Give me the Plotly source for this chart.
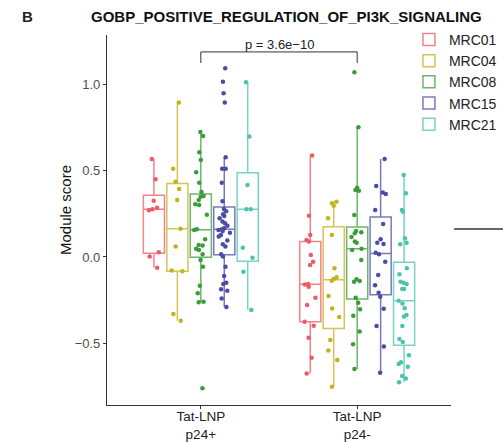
import plotly.graph_objects as go

# ---- data (module scores) ----
groups = ["Tat-LNP<br>p24+", "Tat-LNP<br>p24-"]
samples = ["MRC01", "MRC04", "MRC08", "MRC15", "MRC21"]

mrc01_pos = [-0.062, 0.002, 0.028, 0.270, 0.276, 0.285, 0.326, 0.450, 0.567]
mrc01_neg = [-0.674, -0.583, -0.467, -0.398, -0.375, -0.278, -0.236, -0.172, -0.160,
             -0.156, -0.046, -0.027, 0.012, 0.089, 0.098, 0.127, 0.239, 0.587]

mrc04_pos = [-0.369, -0.330, -0.083, -0.079, 0.060, 0.164, 0.330, 0.394, 0.436, 0.511, 0.894]
mrc04_neg = [-0.751, -0.596, -0.542, -0.481, -0.347, -0.299, -0.226, -0.137, -0.127,
             -0.118, -0.066, 0.127, 0.224, 0.297, 0.311, 0.320]

mrc08_pos = [-0.760, -0.262, -0.259, -0.210, -0.166, -0.056, -0.017, 0.015, 0.041, 0.048,
             0.066, 0.069, 0.102, 0.156, 0.160, 0.245, 0.301, 0.305, 0.330, 0.349, 0.353,
             0.376, 0.430, 0.490, 0.562, 0.606, 0.701, 0.724]
mrc08_neg = [-0.649, -0.506, -0.432, -0.340, -0.303, -0.265, -0.236, -0.143, -0.139, -0.129,
             -0.017, 0.041, 0.048, 0.083, 0.089, 0.115, 0.137, 0.143, 0.151, 0.243, 0.384,
             0.388, 0.401, 0.751, 1.069]

mrc15_pos = [-0.290, -0.241, -0.195, -0.187, -0.156, -0.149, -0.110, -0.056, 0.002, 0.016,
             0.060, 0.073, 0.095, 0.118, 0.127, 0.140, 0.150, 0.156, 0.160, 0.166, 0.181,
             0.195, 0.205, 0.224, 0.237, 0.247, 0.265, 0.278, 0.322, 0.430, 0.511, 0.511,
             0.577, 0.894, 0.948, 1.015, 1.093]
mrc15_neg = [-0.670, -0.519, -0.400, -0.300, -0.230, -0.207, -0.164, -0.104, -0.027, 0.016,
             0.025, 0.075, 0.083, 0.102, 0.191, 0.272, 0.365, 0.373, 0.411, 0.567]

mrc21_pos = [-0.307, -0.085, -0.004, 0.054, 0.276, 0.276, 0.417, 0.697, 1.011]
mrc21_neg = [-0.726, -0.703, -0.689, -0.635, -0.620, -0.610, -0.569, -0.492, -0.475, -0.400,
             -0.345, -0.336, -0.297, -0.270, -0.253, -0.185, -0.185, -0.156, -0.149, -0.143,
             -0.100, -0.066, 0.073, 0.083, 0.108, 0.262, 0.272, 0.369, 0.475]

p_text = "p = 3.6e\u221210"
bracket_y = 1.187
bracket_tick_y = 1.123
title_text = "GOBP_POSITIVE_REGULATION_OF_PI3K_SIGNALING"
panel_label = "B"
y_title = "Module score"

point_colors = ["#EE5A66", "#C4B21E", "#3C9C3C", "#4A4CA6", "#4CC4AC"]
line_colors = ["rgba(238,90,102,0.75)", "rgba(196,178,30,0.75)", "rgba(60,156,60,0.75)",
               "rgba(74,76,166,0.75)", "rgba(76,196,172,0.75)"]

series = [(mrc01_pos, mrc01_neg), (mrc04_pos, mrc04_neg), (mrc08_pos, mrc08_neg),
          (mrc15_pos, mrc15_neg), (mrc21_pos, mrc21_neg)]

FONT = "Liberation Sans, Arial, sans-serif"

fig = go.Figure()
for name, (pos, neg), pc, lc in zip(samples, series, point_colors, line_colors):
    fig.add_trace(go.Box(
        name=name,
        x=[groups[0]] * len(pos) + [groups[1]] * len(neg),
        y=pos + neg,
        boxpoints="all",
        jitter=0.65,
        pointpos=0,
        fillcolor="rgba(255,255,255,0)",
        line=dict(color=lc, width=1.5),
        marker=dict(color=pc, size=4.5),
        whiskerwidth=0,
        quartilemethod="linear",
    ))

fig.update_layout(
    width=503, height=442,
    margin=dict(l=107, r=52, t=35, b=37, autoexpand=False),
    paper_bgcolor="white", plot_bgcolor="white",
    boxmode="group", boxgap=0.25, boxgroupgap=0.1,
    font=dict(family=FONT, color="#222222"),
    showlegend=True,
    legend=dict(xref="container", yref="container", x=0.813, y=0.946,
                xanchor="left", yanchor="top",
                bgcolor="rgba(0,0,0,0)", font=dict(size=14, color="#222222"),
                itemwidth=30),
    xaxis=dict(range=[-0.6, 1.6], showline=True, linecolor="#333333", linewidth=1.2,
               ticks="outside", ticklen=3, tickcolor="#333333", showgrid=False,
               zeroline=False, tickfont=dict(size=13.5, color="#222222"),
               categoryorder="array", categoryarray=groups, ticklabelstandoff=-4),
    yaxis=dict(range=[-0.857, 1.285], showline=True, linecolor="#333333", linewidth=1.2,
               ticks="outside", ticklen=3, tickcolor="#333333", showgrid=False,
               zeroline=False, tickvals=[-0.5, 0.0, 0.5, 1.0], tickformat=".1f",
               tickfont=dict(size=13, color="#4D4D4D")),
)

# significance bracket
fig.add_shape(type="line", xref="x", yref="y", x0=0, x1=0, y0=bracket_tick_y, y1=bracket_y,
              line=dict(color="#333333", width=1))
fig.add_shape(type="line", xref="x", yref="y", x0=0, x1=1, y0=bracket_y, y1=bracket_y,
              line=dict(color="#333333", width=1))
fig.add_shape(type="line", xref="x", yref="y", x0=1, x1=1, y0=bracket_tick_y, y1=bracket_y,
              line=dict(color="#333333", width=1))
fig.add_annotation(x=0.5, y=bracket_y, xref="x", yref="y", text=p_text, showarrow=False,
                   yanchor="bottom", yshift=-2, font=dict(size=13, color="#222222"))

# titles
fig.add_annotation(x=0.523, y=1.051, xref="paper", yref="paper", text="<b>" + title_text + "</b>",
                   showarrow=False, xanchor="center", yanchor="middle",
                   font=dict(size=15, color="#111111"))
fig.add_annotation(x=-0.23, y=1.051, xref="paper", yref="paper", text="<b>" + panel_label + "</b>",
                   showarrow=False, xanchor="center", yanchor="middle",
                   font=dict(size=15, color="#222222"))
fig.add_annotation(x=-0.122, y=0.527, xref="paper", yref="paper", text=y_title, textangle=-90,
                   showarrow=False, xanchor="center", yanchor="middle",
                   font=dict(size=15, color="#111111"))

# stray line from neighbouring panel at right edge
fig.add_shape(type="line", xref="paper", yref="paper", x0=1.009, x1=1.151, y0=0.476, y1=0.476,
              line=dict(color="#333333", width=1.5))

fig.write_html("out.html", config={"displayModeBar": False},
               post_script="document.body.style.margin='0px';")
